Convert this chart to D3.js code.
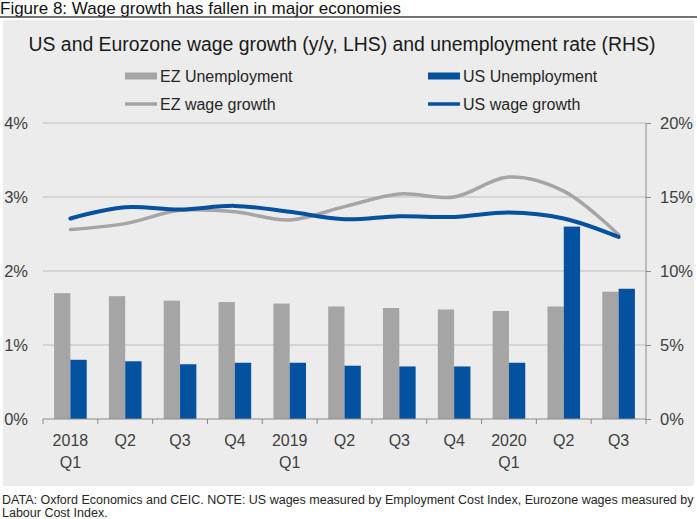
<!DOCTYPE html>
<html>
<head>
<meta charset="utf-8">
<script src="https://cdn.jsdelivr.net/npm/d3@7"></script>
<style>
  body { margin: 0; background: #fff; }
  text { font-family: "Liberation Sans", Arial, sans-serif; }
</style>
</head>
<body>
<div id="chart"></div>
<script>
// quarters (two-line tick labels)
var tickTop = ["2018", "Q2", "Q3", "Q4", "2019", "Q2", "Q3", "Q4", "2020", "Q2", "Q3"];
var tickBottom = ["Q1", "", "", "", "Q1", "", "", "", "Q1", "", ""];

// unemployment rate, % (RHS)
var ezUnemployment = [8.5, 8.3, 8.0, 7.9, 7.8, 7.6, 7.5, 7.4, 7.3, 7.6, 8.6];
var usUnemployment = [4.0, 3.9, 3.7, 3.8, 3.8, 3.6, 3.55, 3.55, 3.8, 13.0, 8.8];

// wage growth y/y, % (LHS)
var ezWage = [2.56, 2.64, 2.82, 2.80, 2.69, 2.87, 3.04, 3.00, 3.27, 3.08, 2.49];
var usWage = [2.71, 2.86, 2.83, 2.88, 2.80, 2.70, 2.74, 2.73, 2.79, 2.71, 2.46];

var leftTicks = [0, 1, 2, 3, 4];
var rightTicks = [0, 5, 10, 15, 20];

var W = 697, H = 519;
var grey = "#a5a5a5", blue = "#0451a0";

var svg = d3.select("#chart").append("svg")
  .attr("width", W).attr("height", H);

// figure heading + rule
svg.append("text")
  .attr("x", 0).attr("y", 14)
  .style("font-size", "17px").style("fill", "#111")
  .text("Figure 8: Wage growth has fallen in major economies");
svg.append("line")
  .attr("x1", 0).attr("x2", W).attr("y1", 17).attr("y2", 17)
  .style("stroke", "#444").style("stroke-width", 1.5);

// grey panel
svg.append("rect")
  .attr("x", 3).attr("y", 20).attr("width", 691).attr("height", 466)
  .style("fill", "#ececec");

svg.append("text")
  .attr("x", 342).attr("y", 51)
  .attr("text-anchor", "middle")
  .style("font-size", "19.4px").style("fill", "#1a1a1a")
  .text("US and Eurozone wage growth (y/y, LHS) and unemployment rate (RHS)");

// legend
var legend = [
  {label: "EZ Unemployment", color: grey, type: "bar", x: 125, y: 76},
  {label: "US Unemployment", color: blue, type: "bar", x: 428, y: 76},
  {label: "EZ wage growth", color: grey, type: "line", x: 125, y: 104},
  {label: "US wage growth", color: blue, type: "line", x: 428, y: 104}
];
var lg = svg.append("g").selectAll("g").data(legend).join("g")
  .attr("transform", d => "translate(" + d.x + "," + d.y + ")");
lg.append("rect")
  .attr("x", 0).attr("width", 32)
  .attr("y", d => d.type == "bar" ? -3.5 : -1.75)
  .attr("height", d => d.type == "bar" ? 7 : 3.5)
  .style("fill", d => d.color);
lg.append("text")
  .attr("x", 35).attr("y", 5.5)
  .style("font-size", "16px").style("fill", "#262626")
  .text(d => d.label);

// plot area
var x0 = 43, x1 = 646, yTop = 123, yBot = 419;

var x = d3.scaleBand()
  .domain(d3.range(tickTop.length))
  .range([x0, x1]);
var xs = d3.scaleBand()
  .domain(["ez", "us"])
  .range([0, x.bandwidth()])
  .paddingOuter(0.68).paddingInner(0);

var yL = d3.scaleLinear().domain([0, 4]).range([yBot, yTop]);
var yR = d3.scaleLinear().domain([0, 20]).range([yBot, yTop]);

// gridlines
svg.append("g").selectAll("line").data(leftTicks.slice(1)).join("line")
  .attr("x1", x0).attr("x2", x1)
  .attr("y1", d => yL(d)).attr("y2", d => yL(d))
  .style("stroke", "#bdbdbd").style("stroke-width", 1);

// bars
var bars = svg.append("g");
bars.selectAll(".ez").data(ezUnemployment).join("rect")
  .attr("class", "ez")
  .attr("x", (d, i) => x(i) + xs("ez"))
  .attr("width", xs.bandwidth())
  .attr("y", d => yR(d))
  .attr("height", d => yBot - yR(d))
  .style("fill", grey);
bars.selectAll(".us").data(usUnemployment).join("rect")
  .attr("class", "us")
  .attr("x", (d, i) => x(i) + xs("us"))
  .attr("width", xs.bandwidth())
  .attr("y", d => yR(d))
  .attr("height", d => yBot - yR(d))
  .style("fill", blue);

// lines
var line = d3.line()
  .x((d, i) => x(i) + x.bandwidth() / 2)
  .y(d => yL(d))
  .curve(d3.curveCatmullRom.alpha(0.5));
svg.append("path").datum(ezWage)
  .attr("d", line)
  .style("fill", "none").style("stroke", grey)
  .style("stroke-width", 3.5).style("stroke-linecap", "round");
svg.append("path").datum(usWage)
  .attr("d", line)
  .style("fill", "none").style("stroke", blue)
  .style("stroke-width", 4).style("stroke-linecap", "round");

// x axis
var xAxis = svg.append("g");
xAxis.append("line")
  .attr("x1", x0).attr("x2", x1).attr("y1", yBot).attr("y2", yBot)
  .style("stroke", "#8c8c8c");
xAxis.selectAll(".tick").data(d3.range(tickTop.length + 1)).join("line")
  .attr("class", "tick")
  .attr("x1", d => x0 + d * x.step()).attr("x2", d => x0 + d * x.step())
  .attr("y1", yBot).attr("y2", yBot + 5)
  .style("stroke", "#8c8c8c");
xAxis.selectAll(".l1").data(tickTop).join("text")
  .attr("class", "l1")
  .attr("x", (d, i) => x(i) + x.bandwidth() / 2)
  .attr("y", 446)
  .attr("text-anchor", "middle")
  .style("font-size", "16px").style("fill", "#404040")
  .text(d => d);
xAxis.selectAll(".l2").data(tickBottom).join("text")
  .attr("class", "l2")
  .attr("x", (d, i) => x(i) + x.bandwidth() / 2)
  .attr("y", 468)
  .attr("text-anchor", "middle")
  .style("font-size", "16px").style("fill", "#404040")
  .text(d => d);

// left axis labels
svg.append("g").selectAll("text").data(leftTicks).join("text")
  .attr("x", 28).attr("y", d => yL(d) + 6)
  .attr("text-anchor", "end")
  .style("font-size", "16.5px").style("fill", "#404040")
  .text(d => d + "%");

// right axis
var rAxis = svg.append("g")
  .attr("transform", "translate(" + x1 + ",0)")
  .call(d3.axisRight(yR).tickValues(rightTicks).tickSize(5).tickPadding(9)
    .tickFormat(d => d + "%"));
rAxis.select(".domain").style("stroke", "#8c8c8c").attr("d", "M0," + yTop + "V" + yBot);
rAxis.selectAll(".tick line").style("stroke", "#8c8c8c");
rAxis.selectAll(".tick text")
  .style("font-size", "16.5px").style("fill", "#404040")
  .style("font-family", "Liberation Sans, Arial, sans-serif");

// footnote
svg.append("text")
  .attr("x", 2).attr("y", 504)
  .style("font-size", "12.5px").style("fill", "#262626")
  .text("DATA: Oxford Economics and CEIC. NOTE: US wages measured by Employment Cost Index, Eurozone wages measured by");
svg.append("text")
  .attr("x", 2).attr("y", 517)
  .style("font-size", "12.5px").style("fill", "#262626")
  .text("Labour Cost Index.");
</script>
</body>
</html>
